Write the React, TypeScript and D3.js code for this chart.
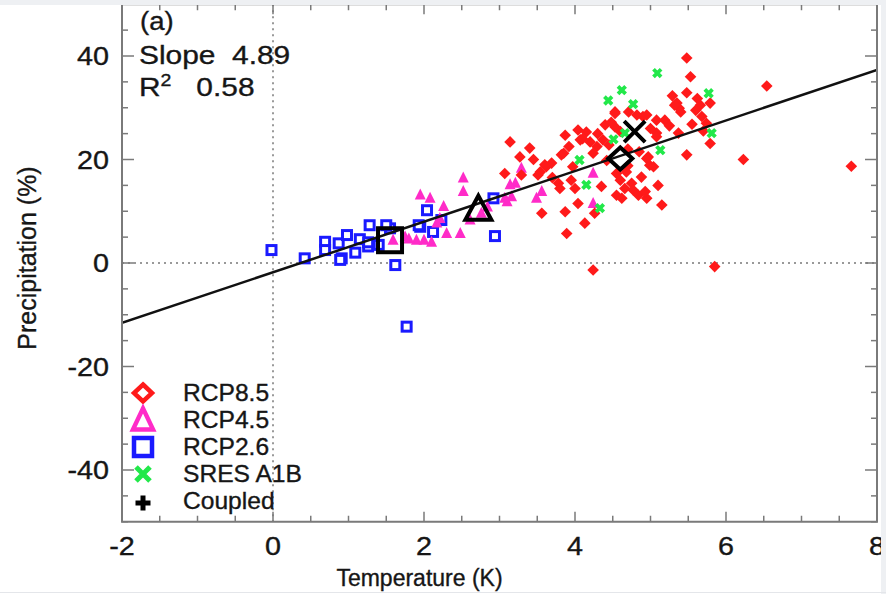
import React from "react";
import * as d3 from "d3";

const W = 886;
const H = 594;

// RCP8.5 [temperature K, precipitation %]
const rcp85: [number, number][] = [
  [5.48, 39.6], [5.53, 36.0], [5.48, 32.9], [5.29, 32.3], [5.35, 30.9], [5.38, 29.9], [5.66, 30.5], [5.79, 30.9],
  [5.68, 28.3], [5.74, 27.0], [5.79, 23.1], [5.48, 20.9], [5.37, 25.1], [5.19, 27.6], [5.08, 27.6], [5.08, 25.1],
  [4.90, 28.3], [4.82, 28.6], [4.71, 29.2], [4.53, 29.2], [4.40, 26.7], [4.53, 26.3], [4.60, 25.4], [4.04, 25.7],
  [3.87, 24.7], [4.07, 23.8], [4.20, 23.4], [4.29, 22.5], [4.37, 23.8], [4.24, 21.2], [3.82, 20.9], [3.97, 18.6],
  [3.40, 22.2], [3.14, 23.4], [3.27, 20.5], [3.07, 17.3], [3.29, 17.0], [3.54, 17.6], [3.62, 18.6], [3.69, 19.3],
  [3.51, 17.0], [3.78, 15.4], [3.80, 14.4], [4.00, 14.4], [4.04, 11.5], [3.87, 9.9], [3.56, 9.6], [4.13, 7.7],
  [3.89, 5.7], [4.26, 9.6], [4.55, 17.3], [4.68, 17.6], [4.60, 16.0], [4.75, 15.4], [4.66, 14.4], [4.77, 14.1],
  [4.84, 13.1], [4.55, 13.1], [4.62, 12.5], [4.95, 12.5], [4.93, 13.8], [4.95, 20.2], [4.99, 18.9], [5.04, 18.6],
  [5.08, 24.4], [5.15, 11.2], [4.24, -1.35], [5.85, -0.7], [6.54, 34.2], [6.23, 20.0], [7.66, 18.7], [4.95, 28.6],
  [4.53, 28.9], [3.85, 21.2], [4.97, 20.5], [5.32, 30.5], [5.40, 29.2], [4.30, 25.0], [4.15, 25.3], [4.10, 24.0],
  [4.45, 22.8], [3.70, 16.5], [3.95, 16.0], [4.48, 27.2], [5.00, 26.0], [5.25, 26.5], [5.60, 29.5], [5.70, 25.5],
  [4.70, 22.0], [4.85, 21.5], [5.55, 26.8], [3.60, 19.0], [3.92, 22.5], [4.42, 19.8], [4.70, 18.8], [4.88, 16.6],
  [5.10, 15.0], [4.35, 14.8], [3.45, 20.0], [5.62, 31.8],
];

// RCP4.5
const rcp45: [number, number][] = [
  [3.29, 18.3], [3.21, 15.4], [3.16, 12.8], [3.56, 13.8], [3.49, 12.5], [4.24, 17.3], [4.24, 11.5], [2.84, 10.8],
  [1.95, 13.1], [2.08, 12.5], [2.52, 16.4], [2.52, 13.8], [2.26, 10.9], [2.17, 7.7], [2.30, 5.7], [2.48, 5.7],
  [1.90, 4.4], [1.80, 4.6], [2.00, 4.4], [2.10, 4.0], [1.59, 4.4], [3.10, 11.8], [3.14, 15.1], [2.21, 8.6],
  [2.61, 8.3], [2.76, 9.6], [3.07, 12.5], [1.75, 5.0],
];

// RCP2.6
const rcp26: [number, number][] = [
  [-0.02, 2.5], [0.42, 0.9], [0.69, 4.1], [0.69, 2.5], [0.87, 3.8], [0.91, 0.9], [0.89, 0.6], [0.98, 5.4],
  [1.15, 4.6], [1.09, 2.0], [1.26, 3.2], [1.26, 4.0], [1.28, 7.3], [1.55, 6.7], [1.62, -0.4], [1.77, -12.3],
  [1.95, 7.0], [2.04, 10.2], [2.12, 6.0], [2.23, 8.3], [2.92, 12.5], [2.94, 5.2], [1.40, 3.5], [1.50, 7.3],
  [1.93, 7.3],
];

// SRES A1B
const a1b: [number, number][] = [
  [5.09, 36.7], [4.62, 33.4], [4.44, 31.4], [4.77, 30.7], [4.51, 23.9], [5.13, 21.8], [4.06, 19.9], [4.15, 15.1],
  [4.33, 10.6], [5.77, 32.8], [5.81, 25.1], [4.66, 25.1],
];

// Ensemble means
const meanRcp85: [number, number] = [4.6, 20.2];
const meanRcp45: [number, number] = [2.72, 10.2];
const meanRcp26: [number, number] = [1.55, 4.4];
const meanA1b: [number, number] = [4.79, 25.4];

const slope = 4.89;
const intercept = -1.8;
const r2 = 0.58;

const xTicks = [-2, 0, 2, 4, 6, 8];
const yTicks = [-40, -20, 0, 20, 40];
const legendLabels = ["RCP8.5", "RCP4.5", "RCP2.6", "SRES A1B", "Coupled"];

const RED = "#ff1a1a";
const MAG = "#ff2bc8";
const BLUE = "#1a1aff";
const GREEN = "#22e84a";
const AX = "#7a7a7a";
const TXT = "#161616";
const FONT = "'Liberation Sans', Arial, sans-serif";

function diamondPath(cx: number, cy: number, rx: number, ry: number) {
  return `M${cx},${cy - ry}L${cx + rx},${cy}L${cx},${cy + ry}L${cx - rx},${cy}Z`;
}
function trianglePath(cx: number, cy: number, w: number, h: number) {
  return `M${cx},${cy - h * 0.6}L${cx + w / 2},${cy + h * 0.4}L${cx - w / 2},${cy + h * 0.4}Z`;
}
function xPath(cx: number, cy: number, s: number) {
  return `M${cx - s},${cy - s}L${cx + s},${cy + s}M${cx - s},${cy + s}L${cx + s},${cy - s}`;
}
function plusPath(cx: number, cy: number, s: number) {
  return `M${cx - s},${cy}L${cx + s},${cy}M${cx},${cy - s}L${cx},${cy + s}`;
}

function T(props: { x: number; y: number; sx?: number; size: number; anchor?: string; children: React.ReactNode }) {
  const { x, y, sx = 1, size, anchor = "start", children } = props;
  return (
    <text
      transform={`translate(${x},${y}) scale(${sx},1)`}
      fontFamily={FONT}
      fontSize={size}
      fill={TXT}
      stroke={TXT}
      strokeWidth={0.35}
      textAnchor={anchor}
      xmlSpace="preserve"
    >
      {children}
    </text>
  );
}

export default function App() {
  const x0 = 122, x1 = 877, yTop = 4.25, yBot = 521.75;
  const x = d3.scaleLinear().domain([-2, 8]).range([x0, x1]);
  const y = d3.scaleLinear().domain([-50, 50]).range([yBot, yTop]);

  const xMinor = d3.range(-2, 8.001, 0.5);
  const yMinor = d3.range(-50, 50.001, 5);

  const line = d3.line<number>().x((t) => x(t)).y((t) => y(slope * t + intercept));

  const legendX = 143;
  const legendY0 = 393;
  const legendDy = 27;

  return (
    <svg width={W} height={H} style={{ position: "absolute", left: 0, top: 0, background: "#fff" }}>
      <rect x={0} y={0} width={W} height={H} fill="#fff" />
      <defs>
        <clipPath id="plotclip">
          <rect x={x0} y={yTop} width={x1 - x0} height={yBot - yTop} />
        </clipPath>
      </defs>

      {/* zero lines */}
      <line x1={x(0)} x2={x(0)} y1={yTop} y2={yBot} stroke="#999" strokeWidth={2} strokeDasharray="2,4" />
      <line x1={x0} x2={x1} y1={y(0)} y2={y(0)} stroke="#999" strokeWidth={2} strokeDasharray="2,4" />

      {/* ticks */}
      <g stroke={AX} strokeWidth={1.5}>
        {xMinor.map((t, i) => {
          const major = Math.abs(t - Math.round(t / 2) * 2) < 1e-6;
          const len = major ? 10 : 6;
          return (
            <g key={"xt" + i}>
              <line x1={x(t)} x2={x(t)} y1={yBot} y2={yBot - len} />
              <line x1={x(t)} x2={x(t)} y1={yTop} y2={yTop + len} />
            </g>
          );
        })}
        {yMinor.map((v, i) => {
          const major = Math.abs(v % 20) < 1e-6;
          const len = major ? 12 : 6;
          return (
            <g key={"yt" + i}>
              <line x1={x0} x2={x0 + len} y1={y(v)} y2={y(v)} />
              <line x1={x1} x2={x1 - len} y1={y(v)} y2={y(v)} />
            </g>
          );
        })}
      </g>

      {/* data */}
      <g clipPath="url(#plotclip)">
        {rcp26.map((d, i) => (
          <rect key={"b" + i} x={x(d[0]) - 4.5} y={y(d[1]) - 4.5} width={9} height={9} fill="#fff" stroke={BLUE} strokeWidth={3} />
        ))}
        {rcp45.map((d, i) => (
          <path key={"m" + i} d={trianglePath(x(d[0]), y(d[1]), 11, 11)} fill={MAG} />
        ))}
        {rcp85.map((d, i) => (
          <path key={"r" + i} d={diamondPath(x(d[0]), y(d[1]), 5.8, 5.8)} fill={RED} />
        ))}
        {a1b.map((d, i) => (
          <path key={"g" + i} d={xPath(x(d[0]), y(d[1]), 3.8)} stroke={GREEN} strokeWidth={3.8} fill="none" />
        ))}

        <path d={line([-2, 8]) || ""} stroke="#111" strokeWidth={2.5} fill="none" />

        {/* ensemble means */}
        <rect x={x(meanRcp26[0]) - 12} y={y(meanRcp26[1]) - 12} width={24} height={24} fill="none" stroke="#000" strokeWidth={4} />
        <path d={trianglePath(x(meanRcp45[0]), y(meanRcp45[1]), 26, 24)} fill="none" stroke="#000" strokeWidth={4} />
        <path d={diamondPath(x(meanRcp85[0]), y(meanRcp85[1]), 12, 11)} fill="none" stroke="#000" strokeWidth={4} />
        <path d={xPath(x(meanA1b[0]), y(meanA1b[1]), 10.5)} fill="none" stroke="#000" strokeWidth={4} />
      </g>

      {/* frame */}
      <rect x={x0} y={yTop} width={x1 - x0} height={yBot - yTop} fill="none" stroke={AX} strokeWidth={2} />

      {/* tick labels */}
      {xTicks.map((t) => (
        <T key={"xl" + t} x={x(t)} y={555} sx={1.15} size={25} anchor="middle">{String(t)}</T>
      ))}
      {yTicks.map((v) => (
        <T key={"yl" + v} x={109} y={y(v) + 9} sx={1.15} size={25} anchor="end">{String(v)}</T>
      ))}

      {/* axis titles */}
      <T x={(x0 + x1) / 2 - 80} y={586} size={23} anchor="middle">Temperature (K)</T>
      <text transform={`translate(36,258) rotate(-90)`} textAnchor="middle" fontFamily={FONT} fontSize={25} fill={TXT} stroke={TXT} strokeWidth={0.35}>Precipitation (%)</text>

      {/* annotations */}
      <T x={140} y={30} sx={1.1} size={25}>(a)</T>
      <T x={139} y={64} sx={1.15} size={26}>{"Slope  " + slope.toFixed(2)}</T>
      <text transform="translate(139,96) scale(1.15,1)" fontFamily={FONT} fontSize={26} fill={TXT} stroke={TXT} strokeWidth={0.35} xmlSpace="preserve">
        R<tspan dy={-10} fontSize={17}>2</tspan><tspan dy={10}>{"   " + r2.toFixed(2)}</tspan>
      </text>

      {/* legend */}
      <g>
        <path d={diamondPath(legendX, legendY0, 9, 8.5)} fill="#fff" stroke={RED} strokeWidth={4.5} />
        <path d={trianglePath(legendX, legendY0 + legendDy + 1, 20, 21)} fill="#fff" stroke={MAG} strokeWidth={4.5} />
        <rect x={legendX - 9} y={legendY0 + 2 * legendDy - 9} width={18} height={18} fill="#fff" stroke={BLUE} strokeWidth={4.5} />
        <path d={xPath(legendX, legendY0 + 3 * legendDy, 7)} stroke={GREEN} strokeWidth={5} fill="none" />
        <path d={plusPath(legendX, legendY0 + 4 * legendDy + 2, 7.5)} stroke="#000" strokeWidth={5} fill="none" />
        {legendLabels.map((l, i) => (
          <T key={l} x={183} y={legendY0 + i * legendDy + 8} sx={1.07} size={23}>{l}</T>
        ))}
      </g>

      {/* outer light frame */}
      <rect x={0} y={0} width={W} height={5} fill="#eef0f3" />
      <rect x={881} y={0} width={5} height={H} fill="#eef0f3" />
      <line x1={0} x2={W} y1={592.5} y2={592.5} stroke="#e4e6ea" strokeWidth={1} />
    </svg>
  );
}
